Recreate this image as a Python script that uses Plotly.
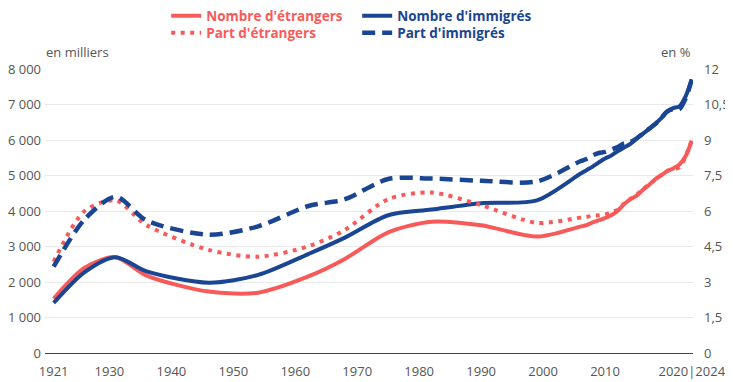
import plotly.graph_objects as go

years = [1921, 1926, 1931, 1936, 1946, 1954, 1962, 1968, 1975, 1982, 1990, 1999,
         2006, 2007, 2008, 2009, 2010, 2011, 2012, 2013, 2014, 2015, 2016, 2017,
         2018, 2019, 2020, 2021, 2022, 2023, 2024]

# en milliers
nombre_etrangers = [1530, 2400, 2700, 2180, 1730, 1700, 2150, 2650, 3400, 3700, 3600, 3280,
                    3560, 3600, 3680, 3740, 3800, 3880, 4000, 4180, 4320, 4420, 4580, 4720,
                    4880, 5000, 5120, 5200, 5310, 5540, 5980]
nombre_immigres = [1410, 2280, 2700, 2300, 1980, 2200, 2780, 3250, 3880, 4040, 4220, 4300,
                   5050, 5150, 5250, 5370, 5480, 5560, 5680, 5780, 5880, 6020, 6160, 6300,
                   6440, 6600, 6800, 6900, 6950, 7230, 7710]
# en %
part_etrangers = [3.86, 6.0, 6.45, 5.4, 4.36, 4.07, 4.5, 5.2, 6.5, 6.78, 6.25, 5.5,
                  5.72, 5.75, 5.8, 5.82, 5.85, 5.95, 6.05, 6.3, 6.5, 6.65, 6.9, 7.1,
                  7.3, 7.5, 7.7, 7.75, 7.85, 8.3, 9.0]
part_immigres = [3.65, 5.65, 6.6, 5.6, 5.0, 5.35, 6.2, 6.5, 7.35, 7.37, 7.28, 7.25,
                 8.1, 8.2, 8.35, 8.45, 8.5, 8.6, 8.7, 8.85, 8.9, 9.05, 9.25, 9.45,
                 9.65, 9.9, 10.2, 10.3, 10.3, 10.75, 11.55]

x_tickvals = [1921, 1930, 1940, 1950, 1960, 1970, 1980, 1990, 2000, 2010, 2024]
x_ticktext = ["1921", "1930", "1940", "1950", "1960", "1970", "1980", "1990", "2000", "2010", "2020|2024"]
y_left_ticks = [0, 1000, 2000, 3000, 4000, 5000, 6000, 7000, 8000]
y_right_ticks = [0, 1.5, 3, 4.5, 6, 7.5, 9, 10.5, 12]

RED = "#f85a5a"
BLUE = "#1a4592"
FONT = "Open Sans"


def lbl(text, color):
    return f"<b><span style='color:{color}'>{text}</span></b>"


fig = go.Figure()
fig.add_trace(go.Scatter(x=years, y=nombre_etrangers, name=lbl("Nombre d'étrangers", RED),
                         mode="lines", line=dict(color=RED, width=4, shape="spline", smoothing=0.8),
                         legend="legend", yaxis="y"))
fig.add_trace(go.Scatter(x=years, y=part_etrangers, name=lbl("Part d'étrangers", RED),
                         mode="lines", line=dict(color=RED, width=4, shape="spline", smoothing=0.8,
                                                 dash="4px,5.5px"),
                         legend="legend2", yaxis="y2"))
fig.add_trace(go.Scatter(x=years, y=nombre_immigres, name=lbl("Nombre d'immigrés", BLUE),
                         mode="lines", line=dict(color=BLUE, width=4, shape="spline", smoothing=0.8),
                         legend="legend", yaxis="y"))
fig.add_trace(go.Scatter(x=years, y=part_immigres, name=lbl("Part d'immigrés", BLUE),
                         mode="lines", line=dict(color=BLUE, width=4.5, shape="spline", smoothing=0.8,
                                                 dash="13px,7px"),
                         legend="legend2", yaxis="y2"))

leg_common = dict(orientation="h", xanchor="left", yanchor="middle", entrywidth=146,
                  itemwidth=30, font=dict(family=FONT, size=13.5),
                  bgcolor="rgba(0,0,0,0)", itemclick=False, tracegroupgap=0)

fig.update_layout(
    width=733, height=382,
    margin=dict(l=37, r=48, t=61, b=37, autoexpand=False),
    paper_bgcolor="white", plot_bgcolor="white",
    separators=", ",
    font=dict(family=FONT, size=13, color="#555555"),
    showlegend=True,
    legend=dict(x=0.187, y=1.187, **leg_common),
    legend2=dict(x=0.187, y=1.127, **leg_common),
    xaxis=dict(range=[1919.6, 2024.2], tickvals=x_tickvals, ticktext=x_ticktext,
               showgrid=False, showline=True, linecolor="#444444", linewidth=1,
               ticks="", zeroline=False, ticklabelstandoff=6,
               tickfont=dict(size=13, color="#555555")),
    yaxis=dict(range=[0, 8000], tickvals=y_left_ticks, tickformat=",d",
               showgrid=True, gridcolor="#e9e9e9", gridwidth=1, zeroline=False,
               ticks="", ticklabelstandoff=3, tickfont=dict(size=13, color="#555555")),
    yaxis2=dict(range=[0, 12], tickvals=y_right_ticks, overlaying="y", side="right",
                showgrid=False, zeroline=False, ticks="", ticklabelstandoff=10,
                tickfont=dict(size=13, color="#555555")),
    annotations=[
        dict(text="en milliers", xref="paper", yref="paper", x=0, y=1.06,
             xanchor="left", yanchor="middle", showarrow=False, xshift=-1,
             font=dict(size=13, color="#555555")),
        dict(text="en %", xref="paper", yref="paper", x=1, y=1.06,
             xanchor="right", yanchor="middle", showarrow=False,
             font=dict(size=13, color="#555555")),
    ],
)

fig.write_html("out.html")
